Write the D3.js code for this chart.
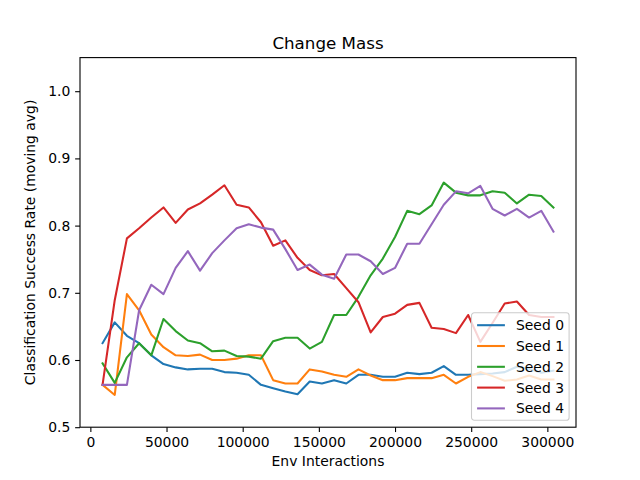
<!DOCTYPE html>
<html>
<head>
<meta charset="utf-8">
<script src="https://cdn.jsdelivr.net/npm/d3@7"></script>
<style>
  body { margin: 0; background: #fff; }
  svg { font-family: "DejaVu Sans", sans-serif; }
</style>
</head>
<body>
<div id="chart"></div>
<script>
// env interactions, one point every 8000 steps
const steps = d3.range(1, 39).map(i => i * 8000);

const seed0 = [0.625, 0.656, 0.636, 0.625, 0.607, 0.594, 0.589, 0.586, 0.587, 0.587,
  0.582, 0.581, 0.578, 0.563, 0.558, 0.553, 0.549, 0.568, 0.565, 0.570,
  0.565, 0.578, 0.578, 0.575, 0.575, 0.581, 0.579, 0.581, 0.591, 0.578,
  0.578, 0.579, 0.580, 0.582, 0.590, 0.587, 0.581, 0.584];
const seed1 = [0.563, 0.548, 0.698, 0.674, 0.638, 0.619, 0.607, 0.606, 0.608, 0.600,
  0.600, 0.602, 0.607, 0.607, 0.570, 0.565, 0.565, 0.586, 0.583, 0.578,
  0.575, 0.586, 0.577, 0.570, 0.570, 0.573, 0.573, 0.573, 0.578, 0.565,
  0.575, 0.582, 0.576, 0.569, 0.571, 0.577, 0.571, 0.571];
const seed2 = [0.595, 0.566, 0.604, 0.625, 0.607, 0.661, 0.643, 0.629, 0.625, 0.613,
  0.614, 0.606, 0.605, 0.602, 0.628, 0.633, 0.633, 0.617, 0.627, 0.667,
  0.667, 0.694, 0.726, 0.751, 0.783, 0.822, 0.817, 0.830, 0.864, 0.849,
  0.845, 0.845, 0.851, 0.849, 0.833, 0.846, 0.844, 0.827];
const seed3 = [0.563, 0.689, 0.781, 0.796, 0.812, 0.827, 0.804, 0.824, 0.833, 0.846,
  0.860, 0.831, 0.827, 0.805, 0.770, 0.778, 0.752, 0.734, 0.726, 0.728,
  0.707, 0.686, 0.641, 0.664, 0.669, 0.682, 0.685, 0.648, 0.646, 0.640,
  0.667, 0.627, 0.655, 0.684, 0.687, 0.667, 0.664, 0.664];
const seed4 = [0.563, 0.563, 0.563, 0.674, 0.712, 0.698, 0.737, 0.762, 0.733, 0.759,
  0.778, 0.796, 0.802, 0.797, 0.794, 0.765, 0.734, 0.742, 0.727, 0.721,
  0.757, 0.757, 0.747, 0.728, 0.737, 0.773, 0.773, 0.802, 0.831, 0.851,
  0.848, 0.859, 0.825, 0.815, 0.825, 0.812, 0.822, 0.791];

const seedNames = ['Seed 0', 'Seed 1', 'Seed 2', 'Seed 3', 'Seed 4'];
const seedValues = [seed0, seed1, seed2, seed3, seed4];
const seedColors = ['#1f77b4', '#ff7f0e', '#2ca02c', '#d62728', '#9467bd'];
const xTicks = [0, 50000, 100000, 150000, 200000, 250000, 300000];
const yTicks = [0.5, 0.6, 0.7, 0.8, 0.9, 1.0];

const W = 640, H = 480;
const margin = { top: 57.6, right: 64, bottom: 52.8, left: 80 };
const width = W - margin.left - margin.right;
const height = H - margin.top - margin.bottom;

const svg = d3.select('#chart').append('svg').attr('width', W).attr('height', H);
const g = svg.append('g').attr('transform', `translate(${margin.left},${margin.top})`);

// matplotlib style 5% padding on x
const span = steps[steps.length - 1] - steps[0];
const x = d3.scaleLinear()
  .domain([steps[0] - 0.05 * span, steps[steps.length - 1] + 0.05 * span])
  .range([0, width]);
const y = d3.scaleLinear().domain([0.5, 1.05]).range([height, 0]);

const tick = 4.86;
const xAxis = g.append('g')
  .attr('transform', `translate(0,${height})`)
  .call(d3.axisBottom(x).tickValues(xTicks).tickFormat(d3.format('d')).tickSizeInner(tick).tickSizeOuter(0).tickPadding(4.86));
const yAxis = g.append('g')
  .call(d3.axisLeft(y).tickValues(yTicks).tickFormat(d3.format('.1f')).tickSizeInner(tick).tickSizeOuter(0).tickPadding(4.86));
[xAxis, yAxis].forEach(a => {
  a.select('.domain').remove();
  a.selectAll('line').attr('stroke', '#000').attr('stroke-width', 1.1);
  a.selectAll('text').attr('font-size', 13.9).attr('fill', '#000').attr('font-family', '"DejaVu Sans", sans-serif');
});

const line = d3.line().x((d, i) => x(steps[i])).y(d => y(d));
g.append('defs').append('clipPath').attr('id', 'clip')
  .append('rect').attr('width', width).attr('height', height);
g.append('g').attr('clip-path', 'url(#clip)')
  .selectAll('path').data(seedValues).enter().append('path')
  .attr('d', line)
  .attr('fill', 'none')
  .attr('stroke', (d, i) => seedColors[i])
  .attr('stroke-width', 2.08)
  .attr('stroke-linejoin', 'round')
  .attr('stroke-linecap', 'square');

g.append('rect').attr('width', width).attr('height', height)
  .attr('fill', 'none').attr('stroke', '#000').attr('stroke-width', 1.1);

g.append('text').attr('x', width / 2).attr('y', -8.3)
  .attr('text-anchor', 'middle').attr('font-size', 16.7).text('Change Mass');
g.append('text').attr('x', width / 2).attr('y', height + 39)
  .attr('text-anchor', 'middle').attr('font-size', 13.9).text('Env Interactions');
g.append('text').attr('transform', `translate(-45,${height / 2}) rotate(-90)`)
  .attr('text-anchor', 'middle').attr('font-size', 13.9)
  .text('Classification Success Rate (moving avg)');

// legend, lower right
const legW = 97.6, legH = 107.6;
const leg = g.append('g').attr('transform', `translate(${width - 6.9 - legW},${height - 6.9 - legH})`);
leg.append('rect').attr('width', legW).attr('height', legH).attr('rx', 2.8)
  .attr('fill', '#fff').attr('fill-opacity', 0.8)
  .attr('stroke', '#ccc').attr('stroke-width', 1.1);
const items = leg.selectAll('.item').data(seedNames).enter().append('g')
  .attr('transform', (d, i) => `translate(0,${12.5 + i * 20.8})`);
items.append('line').attr('x1', 5.6).attr('x2', 33.4)
  .attr('stroke', (d, i) => seedColors[i]).attr('stroke-width', 2.08);
items.append('text').attr('x', 44.5).attr('dy', '0.36em')
  .attr('font-size', 13.9).text(d => d);
</script>
</body>
</html>
